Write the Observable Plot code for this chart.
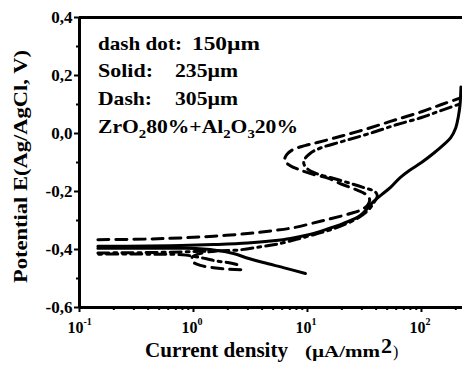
<!DOCTYPE html>
<html><head><meta charset="utf-8">
<script src="https://cdn.jsdelivr.net/npm/d3@7"></script>
<script src="https://cdn.jsdelivr.net/npm/@observablehq/plot@0.6"></script>
<style>
body{margin:0;background:#fff;}
#chart{width:462px;height:365px;}
#chart svg text{font-family:"Liberation Serif","Times New Roman",serif;}
</style></head><body><div id="chart"></div>
<script>
// ---- axis ticks ----
const xMajor = [0.1, 1, 10, 100];
const xExponent = ["-1", "0", "1", "2"];
const xMinor = [0.2,0.3,0.4,0.5,0.6,0.7,0.8,0.9,2,3,4,5,6,7,8,9,20,30,40,50,60,70,80,90,200];
const yMajor = [-0.6, -0.4, -0.2, 0.0, 0.2, 0.4];
const yMinor = [-0.5, -0.3, -0.1, 0.1, 0.3];

// ---- Solid: 235 µm ----
const solidCathX = [9.6, 6.5, 4.1, 3.0, 2.24, 1.6, 1.22, 0.8, 0.4, 0.145];
const solidCathY = [-0.483, -0.465, -0.445, -0.43, -0.414, -0.403, -0.398, -0.396, -0.396, -0.396];
const solidAnodX = [0.145, 0.4, 0.77, 1.5, 2.98, 5, 7.1, 10, 13.8, 20.7, 29, 37.9, 45, 53.5, 65, 80, 100, 127, 155, 180, 200, 211, 218, 222];
const solidAnodY = [-0.389, -0.388, -0.386, -0.383, -0.378, -0.37, -0.362, -0.35, -0.334, -0.31, -0.283, -0.235, -0.21, -0.186, -0.152, -0.125, -0.1, -0.069, -0.04, -0.015, 0.02, 0.06, 0.1, 0.16];

// ---- Dash: 305 µm ----
const dashCathX = [2.6, 2.0, 1.5, 1.15, 0.97, 0.98, 1.2, 1.6];
const dashCathY = [-0.47, -0.468, -0.463, -0.455, -0.44, -0.425, -0.412, -0.405];
const dashAnodX = [0.145, 0.4, 0.77, 1.5, 2.98, 5, 7.5, 13.8, 23.8, 30, 34, 35, 32, 26, 20, 15.3, 11, 8.5, 7, 6.3, 6.6, 7.5, 9.5, 12.2, 20.3, 35.7, 60, 100, 150, 229];
const dashAnodY = [-0.366, -0.364, -0.36, -0.354, -0.345, -0.335, -0.325, -0.3, -0.276, -0.262, -0.245, -0.225, -0.208, -0.192, -0.175, -0.155, -0.14, -0.125, -0.11, -0.093, -0.072, -0.055, -0.042, -0.031, -0.008, 0.02, 0.048, 0.075, 0.1, 0.125];

// ---- Dash dot: 150 µm ----
const dotCathX = [2.4, 2.0, 1.6, 1.3, 1.05, 0.8, 0.4, 0.145];
const dotCathY = [-0.452, -0.445, -0.44, -0.432, -0.425, -0.418, -0.416, -0.416];
const dotAnodX = [0.145, 0.5, 1, 1.5, 2.43, 4, 5.8, 8, 10.6, 15, 20, 28, 34, 38, 41, 39, 32, 23.8, 17, 12, 10, 9.3, 9.4, 10.6, 13, 20, 35, 60, 100, 150, 229];
const dotAnodY = [-0.412, -0.41, -0.407, -0.405, -0.402, -0.39, -0.379, -0.365, -0.352, -0.335, -0.318, -0.29, -0.265, -0.24, -0.215, -0.2, -0.188, -0.172, -0.155, -0.138, -0.122, -0.105, -0.09, -0.068, -0.05, -0.028, 0.0, 0.03, 0.055, 0.08, 0.105];

function branch(series, name, xs, ys) {
  return xs.map((x, i) => ({series, branch: series + name, x, y: ys[i]}));
}
const solidRows = [...branch("solid", "c", solidCathX, solidCathY), ...branch("solid", "a", solidAnodX, solidAnodY)];
const dashRows = [...branch("dash", "c", dashCathX, dashCathY), ...branch("dash", "a", dashAnodX, dashAnodY)];
const dotRows = [...branch("dot", "c", dotCathX, dotCathY), ...branch("dot", "a", dotAnodX, dotAnodY)];

const font = "Liberation Serif, Times New Roman, serif";
const lineOpts = {x: "x", y: "y", z: "branch", stroke: "black", strokeWidth: 3, clip: true, curve: "catmull-rom"};

const svg = Plot.plot({
  width: 462, height: 365,
  marginLeft: 79, marginRight: 0, marginTop: 17, marginBottom: 58,
  style: {fontFamily: font, fontWeight: "bold", fontSize: "16px", background: "white", color: "black", overflow: "visible"},
  x: {type: "log", domain: [0.1, 229]},
  y: {domain: [-0.6, 0.4]},
  marks: [
    Plot.line(solidRows, {...lineOpts}),
    Plot.line(dashRows, {...lineOpts, strokeDasharray: "11,7"}),
    Plot.line(dotRows, {...lineOpts, strokeDasharray: "11,5,3,5"}),
    Plot.axisY(yMajor, {tickSize: 5, tickPadding: 2, strokeWidth: 2, label: null, fontSize: 17, fontFamily: font, fontWeight: "bold",
      tickFormat: d => d3.format(".1f")(d).replace(".", ",").replace("\u2212", "-")}),
    Plot.axisY(yMinor, {tickSize: 3, strokeWidth: 2, label: null, tickFormat: () => ""}),
    Plot.axisX(xMajor, {tickSize: 5, strokeWidth: 2, label: null, tickFormat: () => ""}),
    Plot.axisX(xMinor, {tickSize: 3, strokeWidth: 2, label: null, tickFormat: () => ""}),
    Plot.text(xMajor, {x: d => d, frameAnchor: "bottom", lineAnchor: "bottom", dy: 25, dx: 4, textAnchor: "end", text: () => "10", fontSize: 16, fontFamily: font, fontWeight: "bold"}),
    Plot.text(xMajor, {x: d => d, frameAnchor: "bottom", lineAnchor: "bottom", dy: 17, dx: 4, textAnchor: "start", text: xExponent, fontSize: 10, fontFamily: font, fontWeight: "bold"}),
    Plot.ruleX([0.1], {strokeWidth: 3}),
    Plot.ruleY([0.4, -0.6], {strokeWidth: 3})
  ]
});

const s = d3.select(svg);
function addText(x, y, parts, opts = {}) {
  const t = s.append("text")
    .attr("x", x).attr("y", y)
    .attr("font-family", font)
    .attr("font-weight", opts.weight || "bold")
    .attr("font-size", opts.size || 19)
    .attr("text-anchor", opts.anchor || "start")
    .attr("fill", "black");
  if (opts.len) t.attr("textLength", opts.len).attr("lengthAdjust", "spacingAndGlyphs");
  if (opts.transform) t.attr("transform", opts.transform);
  if (typeof parts === "string") t.text(parts);
  else {
    parts.forEach(p => {
      const ts = t.append("tspan").text(p.t);
      if (p.sub) ts.attr("font-size", p.sub).attr("dy", p.dy);
      else if (p.dy) ts.attr("dy", p.dy);
    });
  }
  return t;
}

// legend (in-plot annotation)
addText(98, 50, "dash dot:", {len: 84});
addText(192, 50, "150\u00b5m", {len: 68});
addText(98, 77, "Solid:", {len: 55});
addText(175, 77, "235\u00b5m", {len: 63});
addText(98, 105, "Dash:", {len: 54});
addText(175, 105, "305\u00b5m", {len: 63});
addText(98, 133, [
  {t: "ZrO"}, {t: "2", sub: 13, dy: 5}, {t: "80%+Al", dy: -5}, {t: "2", sub: 13, dy: 5},
  {t: "O", dy: -5}, {t: "3", sub: 13, dy: 5}, {t: "20%", dy: -5}
], {len: 200});

// axis titles
addText(0, 0, "Potential E(Ag/AgCl, V)", {size: 19, anchor: "middle", len: 233, transform: "translate(27,166.5) rotate(-90)"});
addText(145, 357, "Current density", {size: 20, len: 143});
addText(305, 357, "(\u00b5A/mm", {size: 17, len: 75});
addText(381, 353, "2", {size: 22});
addText(393, 357, ")", {size: 16, weight: "normal"});

document.getElementById("chart").appendChild(svg);
</script>
</body></html>
